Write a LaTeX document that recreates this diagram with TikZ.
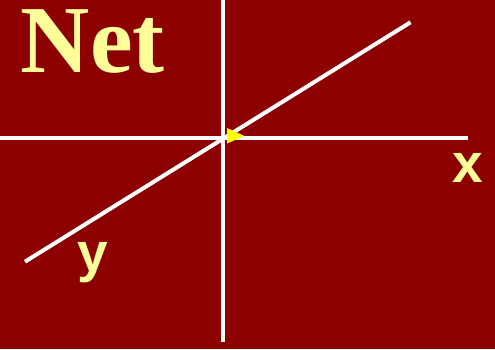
\documentclass[tikz,border=0pt]{standalone}
\usepackage{fontspec}
\setmainfont{Liberation Serif}
\setsansfont{Liberation Sans}
\definecolor{bgred}{RGB}{140,0,0}
\definecolor{lightyel}{RGB}{255,255,153}
\definecolor{arryel}{RGB}{255,255,0}
\tikzset{
  axisline/.style={draw=white, line width=4pt},
  lbl/.style={text=lightyel, inner sep=0pt, anchor=base west, font=\sffamily\bfseries\fontsize{55}{60}\selectfont},
}
\begin{document}
\begin{tikzpicture}[x=1pt,y=-1pt]
\fill[bgred] (0,0) rectangle (495,349);
\useasboundingbox (0,0) rectangle (495,349);
\coordinate (hl) at (0,137.5);
\coordinate (hr) at (468,137.5);
\coordinate (vt) at (223,0);
\coordinate (vb) at (223,342);
\coordinate (dl) at (25,261.7);
\coordinate (dr) at (410.5,22.3);
\draw[axisline] (hl) -- (hr);
\draw[axisline] (vt) -- (vb);
\draw[axisline] (dl) -- (dr);
\fill[arryel] (227,128) -- (244.5,136) -- (227,143.5) -- cycle;
\node[text=lightyel, inner sep=0pt, anchor=base west, text height=64pt, text depth=0pt, font=\rmfamily\bfseries\fontsize{96}{100}\selectfont] (net) at (20.5,72.5) {Net};
\node[lbl] (xlab) at (452.5,182) {x};
\node[lbl] (ylab) at (77,271) {y};
\end{tikzpicture}
\end{document}
